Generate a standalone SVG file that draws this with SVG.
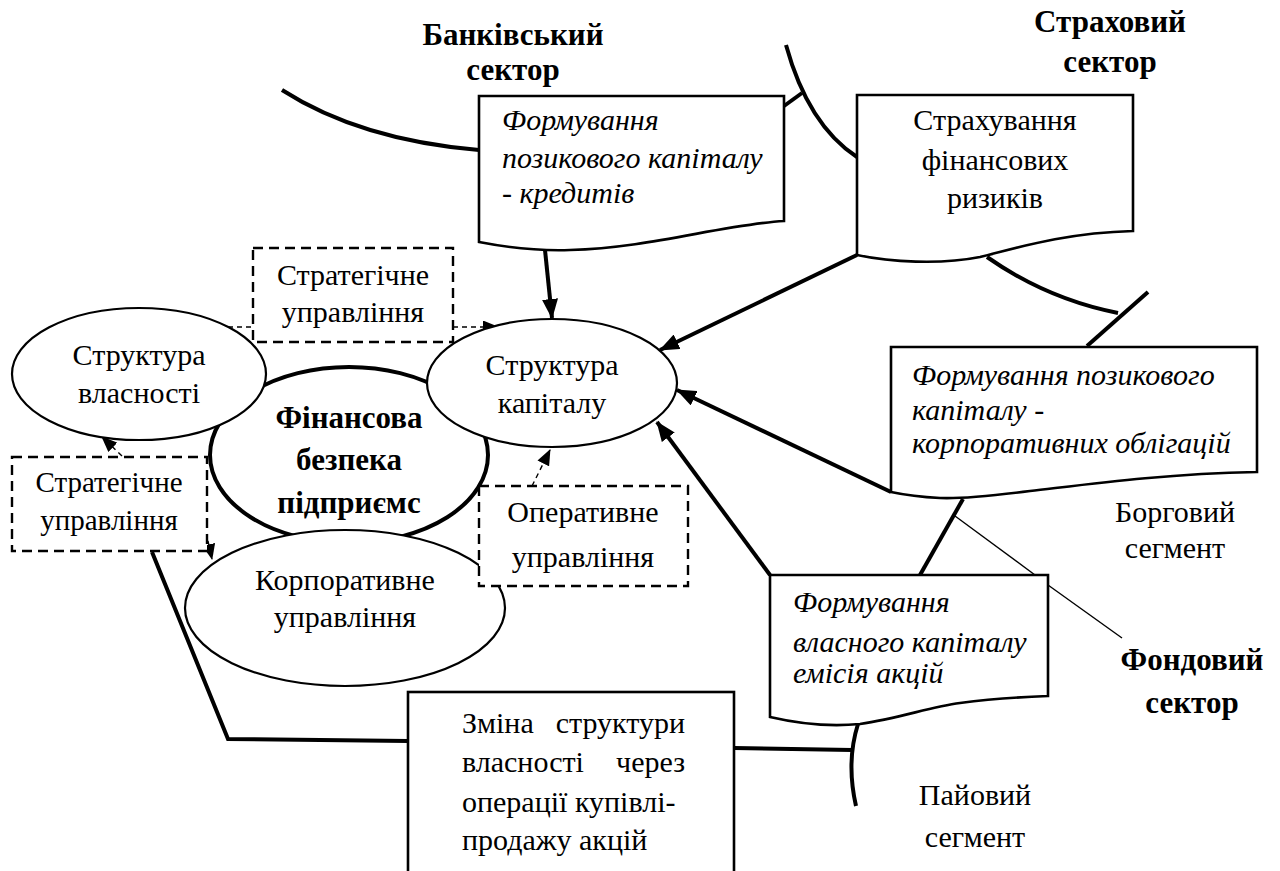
<svg xmlns="http://www.w3.org/2000/svg" width="1280" height="871" viewBox="0 0 1280 871" font-family="Times New Roman, Liberation Serif, serif">
<defs>
<marker id="ah" markerUnits="userSpaceOnUse" markerWidth="20" markerHeight="16" refX="19" refY="8" orient="auto"><path d="M0,0 L20,8 L0,16 z" fill="#000"/></marker>
<marker id="as" markerUnits="userSpaceOnUse" markerWidth="16" markerHeight="13" refX="15" refY="6.5" orient="auto"><path d="M0,0 L16,6.5 L0,13 z" fill="#000"/></marker>
</defs>
<rect width="1280" height="871" fill="#fff"/>

<g id="labels" text-anchor="middle">
<text font-family="Times New Roman, Liberation Serif, serif" font-size="31" font-weight="bold" x="513" y="45">Банківський</text>
<text font-family="Times New Roman, Liberation Serif, serif" font-size="31" font-weight="bold" x="513" y="80">сектор</text>
<text font-family="Times New Roman, Liberation Serif, serif" font-size="31" font-weight="bold" x="1110" y="32">Страховий</text>
<text font-family="Times New Roman, Liberation Serif, serif" font-size="31" font-weight="bold" x="1110" y="72">сектор</text>
<text font-family="Times New Roman, Liberation Serif, serif" font-size="31" font-weight="bold" x="1192" y="670">Фондовий</text>
<text font-family="Times New Roman, Liberation Serif, serif" font-size="31" font-weight="bold" x="1192" y="713">сектор</text>
<text font-family="Times New Roman, Liberation Serif, serif" font-size="30" x="1175" y="522">Борговий</text>
<text font-family="Times New Roman, Liberation Serif, serif" font-size="30" x="1175" y="558">сегмент</text>
<text font-family="Times New Roman, Liberation Serif, serif" font-size="30" x="975" y="805">Пайовий</text>
<text font-family="Times New Roman, Liberation Serif, serif" font-size="30" x="975" y="847">сегмент</text>
</g>

<g id="connectors" fill="none" stroke="#000">
<g stroke-width="4">
<path d="M282,90 Q360,140 479,150"/>
<path d="M786,45 Q808,125 857,157"/>
<path d="M784,106 L802,93"/>
<path d="M987,257 Q1047,299 1118,313"/>
<path d="M1148,292 L1087,346"/>
<path d="M963,499 L920,575"/>
<path d="M858,724 Q846,762 856,806"/>
<path d="M734,748 L852,750"/>
<path d="M408,741 L228,739 L152,552"/>
<path d="M545,250 L552,318" marker-end="url(#ah)"/>
<path d="M857,255 L660,350" marker-end="url(#ah)"/>
<path d="M891,492 L677,390" marker-end="url(#ah)"/>
<path d="M770,575 L657,422" marker-end="url(#ah)"/>
</g>
<g stroke-width="1.4">
<path d="M955,516 L1035,575"/>
<path d="M1048,585 L1122,638"/>
</g>
<g stroke-width="1.4" stroke-dasharray="5 4">
<path d="M228,327 L253,327"/>
<path d="M453,327 L498,327" marker-end="url(#as)"/>
<path d="M122,456 L102,437" marker-end="url(#as)"/>
<path d="M206,532 L212,559" marker-end="url(#as)"/>
<path d="M532,486 L550,450" marker-end="url(#as)"/>
</g>
</g>

<g id="finance" text-anchor="middle">
<ellipse cx="349" cy="455" rx="139" ry="88" fill="#fff" stroke="#000" stroke-width="4"/>
<text font-family="Times New Roman, Liberation Serif, serif" font-size="31" font-weight="bold" x="349" y="428">Фінансова</text>
<text font-family="Times New Roman, Liberation Serif, serif" font-size="31" font-weight="bold" x="349" y="470">безпека</text>
<text font-family="Times New Roman, Liberation Serif, serif" font-size="31" font-weight="bold" x="349" y="513">підприємс</text>
</g>
<g id="ownership" text-anchor="middle">
<ellipse cx="139" cy="374" rx="127" ry="66" fill="#fff" stroke="#000" stroke-width="2.2"/>
<text font-family="Times New Roman, Liberation Serif, serif" font-size="30" x="139" y="365">Структура</text>
<text font-family="Times New Roman, Liberation Serif, serif" font-size="30" x="139" y="403">власності</text>
</g>
<g id="capital" text-anchor="middle">
<ellipse cx="552" cy="383" rx="125" ry="64" fill="#fff" stroke="#000" stroke-width="2.2"/>
<text font-family="Times New Roman, Liberation Serif, serif" font-size="30" x="552" y="375">Структура</text>
<text font-family="Times New Roman, Liberation Serif, serif" font-size="30" x="552" y="413">капіталу</text>
</g>
<g id="corporate" text-anchor="middle">
<ellipse cx="345" cy="608" rx="160" ry="78" fill="#fff" stroke="#000" stroke-width="2.2"/>
<text font-family="Times New Roman, Liberation Serif, serif" font-size="30" x="345" y="590">Корпоративне</text>
<text font-family="Times New Roman, Liberation Serif, serif" font-size="30" x="345" y="627">управління</text>
</g>
<g id="strategic-top" text-anchor="middle">
<rect x="253" y="248" width="200" height="94" fill="#fff" stroke="#000" stroke-width="2.4" stroke-dasharray="10 6"/>
<text font-family="Times New Roman, Liberation Serif, serif" font-size="30" x="353" y="285">Стратегічне</text>
<text font-family="Times New Roman, Liberation Serif, serif" font-size="30" x="353" y="322">управління</text>
</g>
<g id="strategic-left" text-anchor="middle">
<rect x="12" y="457" width="195" height="94" fill="#fff" stroke="#000" stroke-width="2.4" stroke-dasharray="10 6"/>
<text font-family="Times New Roman, Liberation Serif, serif" font-size="29" x="109" y="492">Стратегічне</text>
<text font-family="Times New Roman, Liberation Serif, serif" font-size="29" x="109" y="530">управління</text>
</g>
<g id="operative" text-anchor="middle">
<rect x="479" y="486" width="209" height="100" fill="#fff" stroke="#000" stroke-width="2.4" stroke-dasharray="10 6"/>
<text font-family="Times New Roman, Liberation Serif, serif" font-size="30" x="583" y="522">Оперативне</text>
<text font-family="Times New Roman, Liberation Serif, serif" font-size="30" x="583" y="567">управління</text>
</g>

<g id="bank-box">
<path d="M479,96 H784 V221 C720,225 650,248 570,250 C540,251 510,248 479,242 Z" fill="#fff" stroke="#000" stroke-width="2.6"/>
<text font-family="Times New Roman, Liberation Serif, serif" font-size="30" font-style="italic" x="502" y="130">Формування</text>
<text font-family="Times New Roman, Liberation Serif, serif" font-size="30" font-style="italic" x="502" y="168">позикового капіталу</text>
<text font-family="Times New Roman, Liberation Serif, serif" font-size="30" font-style="italic" x="502" y="203">- кредитів</text>
</g>
<g id="insurance-box" text-anchor="middle">
<path d="M857,95 H1133 V231 C1060,233 1010,250 980,257 C940,265 890,262 857,255 Z" fill="#fff" stroke="#000" stroke-width="2.6"/>
<text font-family="Times New Roman, Liberation Serif, serif" font-size="30" x="995" y="130">Страхування</text>
<text font-family="Times New Roman, Liberation Serif, serif" font-size="30" x="995" y="170">фінансових</text>
<text font-family="Times New Roman, Liberation Serif, serif" font-size="30" x="995" y="208">ризиків</text>
</g>
<g id="bond-box">
<path d="M891,347 H1257 V472 C1160,474 1090,484 1030,491 C990,496 960,499 940,498 C920,497 905,495 891,492 Z" fill="#fff" stroke="#000" stroke-width="2.6"/>
<text font-family="Times New Roman, Liberation Serif, serif" font-size="30" font-style="italic" x="912" y="385">Формування позикового</text>
<text font-family="Times New Roman, Liberation Serif, serif" font-size="30" font-style="italic" x="912" y="420">капіталу -</text>
<text font-family="Times New Roman, Liberation Serif, serif" font-size="30" font-style="italic" x="912" y="453">корпоративних облігацій</text>
</g>
<g id="equity-box">
<path d="M770,575 H1048 V696 C1020,697 990,699 960,703 C930,707 900,718 860,724 C830,727 800,724 770,717 Z" fill="#fff" stroke="#000" stroke-width="2.6"/>
<text font-family="Times New Roman, Liberation Serif, serif" font-size="30" font-style="italic" x="793" y="612">Формування</text>
<text font-family="Times New Roman, Liberation Serif, serif" font-size="30" font-style="italic" x="793" y="652">власного капіталу</text>
<text font-family="Times New Roman, Liberation Serif, serif" font-size="30" font-style="italic" x="793" y="683">емісія акцій</text>
</g>
<g id="ownership-change">
<rect x="408" y="692" width="326" height="200" fill="#fff" stroke="#000" stroke-width="2.6"/>
<text font-family="Times New Roman, Liberation Serif, serif" font-size="30" x="462" y="733">Зміна</text>
<text font-family="Times New Roman, Liberation Serif, serif" font-size="30" x="685" y="733" text-anchor="end">структури</text>
<text font-family="Times New Roman, Liberation Serif, serif" font-size="30" x="462" y="772">власності</text>
<text font-family="Times New Roman, Liberation Serif, serif" font-size="30" x="685" y="772" text-anchor="end">через</text>
<text font-family="Times New Roman, Liberation Serif, serif" font-size="30" x="462" y="812">операції купівлі-</text>
<text font-family="Times New Roman, Liberation Serif, serif" font-size="30" x="462" y="850">продажу акцій</text>
</g>
</svg>
